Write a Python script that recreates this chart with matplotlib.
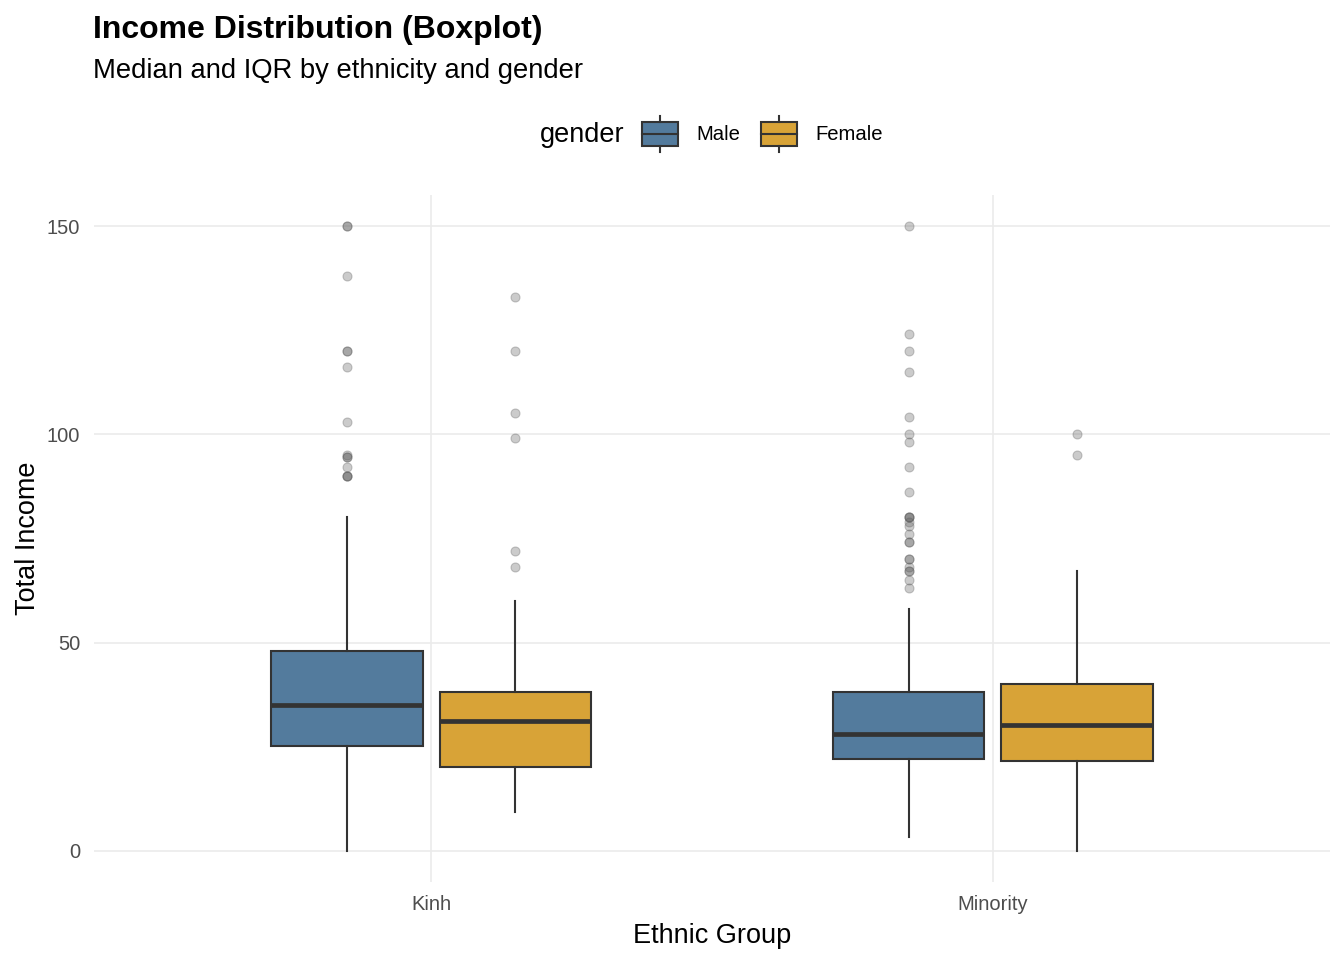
import matplotlib.pyplot as plt
from matplotlib.patches import Rectangle
from matplotlib.lines import Line2D
from matplotlib.legend_handler import HandlerBase

plt.rcParams['font.family'] = ['Liberation Sans', 'DejaVu Sans']

# summary stats
groups = ['Kinh', 'Minority']
genders = ['Male', 'Female']
colors = ['#537B9D', '#D8A337']

male_q1 = [25.2, 22.1]
male_med = [35.0, 28.0]
male_q3 = [48.0, 38.2]
male_lo = [0.0, 3.3]
male_hi = [80.2, 58.0]

female_q1 = [20.2, 21.6]
female_med = [31.1, 30.2]
female_q3 = [38.2, 40.1]
female_lo = [9.3, 0.0]
female_hi = [60.0, 67.1]

male_out = [
    [150, 150, 138, 120, 120, 116.3, 103, 95.1, 94.5, 94.5, 92.1, 90, 90, 90],
    [150, 124, 120, 115, 104.2, 100.1, 98.2, 92.1, 86.2, 80.2, 80.2, 80.2,
     79, 78.1, 76.2, 74.2, 74.2, 70.1, 70.1, 68.2, 67.3, 67.3, 65, 63.2],
]
female_out = [
    [133, 120, 105.2, 99.2, 72.1, 68.2],
    [100.1, 95],
]

edge = '#333333'


class BoxKey(HandlerBase):
    # legend key: filled box with median line and whisker stubs
    def create_artists(self, legend, orig_handle, xdescent, ydescent,
                       width, height, fontsize, trans):
        x0, y0 = -xdescent, -ydescent
        pad = height * 0.18
        box = Rectangle((x0, y0 + pad), width, height - 2 * pad,
                        facecolor=orig_handle.get_facecolor(), edgecolor=edge,
                        linewidth=1.5, transform=trans)
        xm = x0 + width / 2
        ym = y0 + height / 2
        med = Line2D([x0, x0 + width], [ym, ym], color=edge, lw=1.5, transform=trans)
        w1 = Line2D([xm, xm], [y0, y0 + pad], color=edge, lw=1.5, transform=trans)
        w2 = Line2D([xm, xm], [y0 + height - pad, y0 + height], color=edge, lw=1.5,
                    transform=trans)
        return [box, med, w1, w2]


fig = plt.figure(figsize=(13.44, 9.6), dpi=100)
ax = fig.add_axes([94 / 1344, 1 - 882 / 960, 1236 / 1344, 687 / 960])

stats_sets = [
    (male_q1, male_med, male_q3, male_lo, male_hi, male_out, -0.15),
    (female_q1, female_med, female_q3, female_lo, female_hi, female_out, 0.15),
]

for k, (q1, med, q3, lo, hi, out, off) in enumerate(stats_sets):
    stats = []
    for i in range(len(groups)):
        stats.append({'q1': q1[i], 'med': med[i], 'q3': q3[i],
                      'whislo': lo[i], 'whishi': hi[i], 'fliers': out[i]})
    positions = [i + 1 + off for i in range(len(groups))]
    ax.bxp(stats, positions=positions, widths=0.27, patch_artist=True,
           showcaps=False, manage_ticks=False,
           boxprops=dict(facecolor=colors[k], edgecolor=edge, linewidth=1.5),
           medianprops=dict(color=edge, linewidth=3.4, solid_capstyle='butt'),
           whiskerprops=dict(color=edge, linewidth=1.5),
           flierprops=dict(marker='o', markersize=6.5, markerfacecolor='#555555',
                           markeredgecolor='#555555', markeredgewidth=0.8, alpha=0.3))

ax.set_xlim(0.4, 2.6)
ax.set_ylim(-7.5, 157.5)
ax.set_xticks([1, 2])
ax.set_xticklabels(groups)
ax.set_yticks([0, 50, 100, 150])
ax.grid(True, color='#EBEBEB', linewidth=1.2)
ax.set_axisbelow(True)
for s in ax.spines.values():
    s.set_visible(False)
ax.tick_params(length=0, labelsize=14.5, labelcolor='#4D4D4D')
ax.tick_params(axis='y', pad=10)
ax.tick_params(axis='x', pad=9.5)
ax.set_xlabel('Ethnic Group', fontsize=19.5, labelpad=6)
ax.set_ylabel('Total Income', fontsize=19.5, labelpad=4)

fig.text(93 / 1344, 1 - 38 / 960, 'Income Distribution (Boxplot)', fontsize=23,
         fontweight='bold', va='baseline')
fig.text(93 / 1344, 1 - 78 / 960, 'Median and IQR by ethnicity and gender',
         fontsize=19.7, va='baseline')

fig.text(540 / 1344, 1 - 142 / 960, 'gender', fontsize=19.5, va='baseline')
handles = [Rectangle((0, 0), 1, 1, facecolor=c) for c in colors]
fig.legend(handles, genders, handler_map={Rectangle: BoxKey()},
           loc='center left', bbox_to_anchor=(642 / 1344, 1 - 134 / 960),
           ncol=2, frameon=False, fontsize=14.6, borderpad=0, borderaxespad=0,
           handlelength=1.77, handleheight=2.42, handletextpad=0.93,
           columnspacing=1.0)

fig.savefig('out.png', dpi=100)
